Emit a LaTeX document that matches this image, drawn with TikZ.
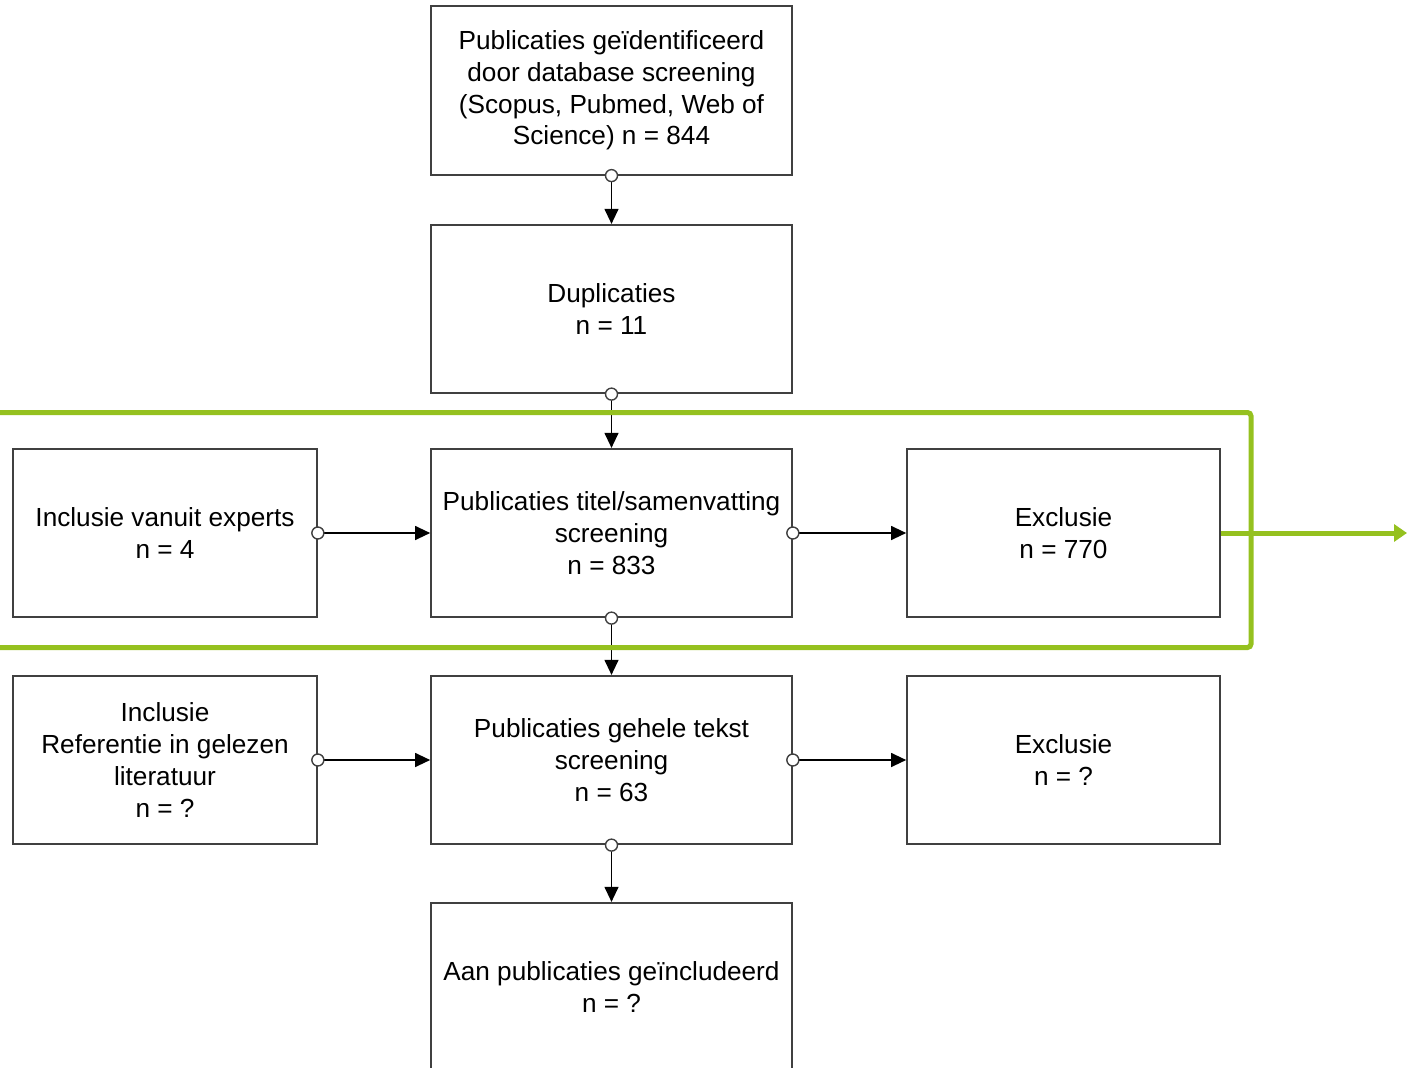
\documentclass[tikz,border=0pt]{standalone}
\usepackage{fontspec}
\setmainfont{Liberation Sans}
\usetikzlibrary{arrows.meta}

\definecolor{boxgrey}{rgb}{0.25,0.25,0.25}
\definecolor{selectgreen}{RGB}{149,193,31}

\tikzset{
  stapbox/.style={draw=boxgrey, line width=1pt, fill=white, minimum height=3.37cm,
    align=center, inner sep=0pt, font=\fontsize{14.9}{18.1}\selectfont},
  midbox/.style={stapbox, minimum width=7.22cm},
  leftbox/.style={stapbox, minimum width=6.08cm},
  rightbox/.style={stapbox, minimum width=6.26cm},
  flow/.style={line width=0.7pt, -{Triangle[length=0.3cm,width=0.28cm]}},
  port/.style={draw=boxgrey, line width=0.8pt, fill=white},
}

\begin{document}
\begin{tikzpicture}[x=0.02cm,y=-0.02cm]
% picture frame, 1407 x 1068
\useasboundingbox (0,0) rectangle (1407,1068);

% Drawing the boxes
\node[midbox] (ident) at (611.5,90.5) {Publicaties geïdentificeerd\\door database screening\\(Scopus, Pubmed, Web of\\Science) n = 844};
\node[midbox] (dupl) at (611.5,309) {Duplicaties\\n = 11};
\node[leftbox] (experts) at (165,533) {Inclusie vanuit experts\\n = 4};
\node[midbox] (titel) at (611.5,533) {Publicaties titel/samenvatting\\screening\\n = 833};
\node[rightbox] (excltitel) at (1063.5,533) {Exclusie\\n = 770};
\node[leftbox] (referentie) at (165,760) {Inclusie\\Referentie in gelezen\\literatuur\\n = ?};
\node[midbox] (tekst) at (611.5,760) {Publicaties gehele tekst\\screening\\n = 63};
\node[rightbox] (excltekst) at (1063.5,760) {Exclusie\\n = ?};
\node[midbox] (incl) at (611.5,987) {Aan publicaties geïncludeerd\\n = ?};

% Drawing connectors
\draw[flow] (ident.south) -- (dupl.north);
\draw[flow] (dupl.south) -- (titel.north);
\draw[flow] (experts.east) -- (titel.west);
\draw[flow] (titel.east) -- (excltitel.west);
\draw[flow] (titel.south) -- (tekst.north);
\draw[flow] (referentie.east) -- (tekst.west);
\draw[flow] (tekst.east) -- (excltekst.west);
\draw[flow] (tekst.south) -- (incl.north);

% small circles at the start of each connector
\foreach \n/\a in {ident/south, dupl/south, experts/east, titel/east,
                   titel/south, referentie/east, tekst/east, tekst/south}
  \draw[port] (\n.\a) circle (0.12cm);

% Drawing the green selection
\draw[selectgreen, line width=0.1cm, rounded corners=2pt]
  (-10,412.5) -- (1251,412.5) -- (1251,647.5) -- (-10,647.5);
\coordinate (uit) at (1407,533);
\draw[selectgreen, line width=0.1cm, -{Triangle[length=0.26cm,width=0.34cm]}]
  (excltitel.east) -- (uit);
\end{tikzpicture}
\end{document}
